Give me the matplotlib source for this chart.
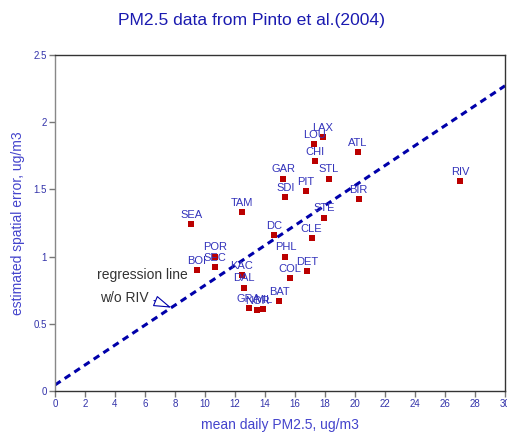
import matplotlib
matplotlib.use("Agg")
import matplotlib.pyplot as plt
import numpy as np

plt.rcParams['font.family'] = ['Liberation Sans', 'DejaVu Sans']

# site codes, mean daily PM2.5 and estimated spatial error
sites = ["LAX", "LOU", "CHI", "STL", "GAR", "PIT", "SDI", "TAM", "SEA", "STE",
         "DC", "CLE", "POR", "PHL", "SEC", "BOI", "DET", "KAC", "COL", "DAL",
         "BAT", "GRA", "NOR", "MIL", "ATL", "BIR", "RIV"]
pm25 = [17.85, 17.29, 17.33, 18.27, 15.22, 16.71, 15.36, 12.44, 9.07, 17.93,
        14.60, 17.11, 10.69, 15.36, 10.64, 9.44, 16.82, 12.44, 15.64, 12.58,
        14.95, 12.91, 13.49, 13.89, 20.20, 20.24, 27.00]
spatial_err = [1.89, 1.84, 1.71, 1.58, 1.58, 1.49, 1.44, 1.33, 1.24, 1.29,
               1.16, 1.14, 1.00, 1.00, 0.92, 0.90, 0.89, 0.86, 0.84, 0.77,
               0.67, 0.62, 0.60, 0.61, 1.78, 1.43, 1.56]

# regression line without RIV
reg_intercept = 0.045
reg_slope = 0.0742

LABEL_BLUE = "#3333bb"

fig = plt.figure(figsize=(5.07, 4.34), dpi=100, facecolor="white")
ax = fig.add_axes([55 / 507, 43 / 434, 450 / 507, 336 / 434])

xs = np.array([0, 30])
ax.plot(xs, reg_intercept + reg_slope * xs, color="#0000aa", linewidth=2.2,
        linestyle=(0, (2.2, 1.6)), zorder=2)

ax.scatter(pm25, spatial_err, marker="s", s=14, color="#bb0000", linewidths=0, zorder=3)
for name, x, y in zip(sites, pm25, spatial_err):
    ax.annotate(name, (x, y), xytext=(0, 3), textcoords="offset points",
                ha="center", va="bottom", fontsize=8, color=LABEL_BLUE, zorder=4)

# annotation for the regression line
ax.text(2.8, 0.863, "regression line", fontsize=10, color="#333333",
        ha="left", va="center")
ax.annotate("w/o RIV", xy=(7.75, reg_intercept + reg_slope * 7.75),
            xytext=(3.0, 0.69), fontsize=10, color="#333333",
            ha="left", va="center",
            arrowprops=dict(arrowstyle="-|>,head_length=1.1,head_width=0.35",
                            facecolor="white", edgecolor="#0000aa", lw=0.8,
                            shrinkA=2, shrinkB=0, relpos=(1, 0.5)))

ax.set_xlim(0, 30)
ax.set_ylim(0, 2.5)
ax.set_xticks(np.arange(0, 31, 2))
ax.set_yticks([0, 0.5, 1, 1.5, 2, 2.5])
ax.set_yticklabels(["0", "0.5", "1", "1.5", "2", "2.5"])
ax.tick_params(direction="out", length=4, width=1, color="#777777",
               labelsize=7, labelcolor="#3333aa", pad=2)
for s in ax.spines.values():
    s.set_color("#333333")
    s.set_linewidth(1)
ax.spines["left"].set_color("#888888")

ax.set_xlabel("mean daily PM2.5, ug/m3", fontsize=10, color="#4444cc", labelpad=6)
ax.set_ylabel("estimated spatial error, ug/m3", fontsize=10, color="#4444cc", labelpad=6)
fig.text(252 / 507, 1 - 20 / 434, "PM2.5 data from Pinto et al.(2004)", ha="center",
         va="center", fontsize=12.6, color="#1a1ab0")

fig.savefig("out.png", dpi=100, facecolor="white")
